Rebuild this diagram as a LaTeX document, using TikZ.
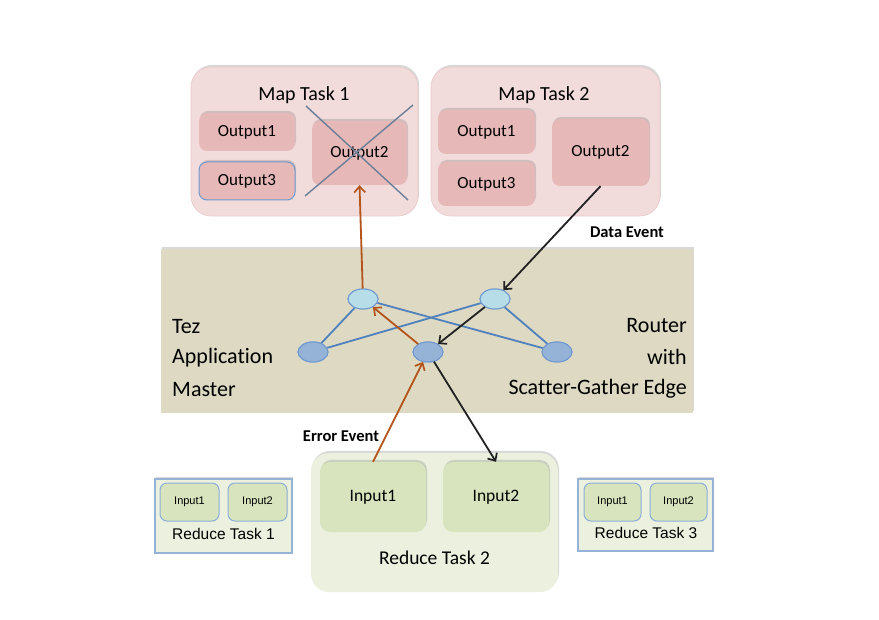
\documentclass[tikz,border=0pt]{standalone}
\usepackage{fontspec}
\setmainfont{Carlito}[Ligatures=NoCommon]
\newfontfamily\arialf{Liberation Sans}
\usetikzlibrary{shapes.geometric,arrows.meta,shadows}
\definecolor{mapfill}{HTML}{F2DCDB}
\definecolor{mapline}{HTML}{E8C8C7}
\definecolor{outfill}{HTML}{E6B9B8}
\definecolor{bandfill}{HTML}{DDD9C3}
\definecolor{lblue}{HTML}{B7DEE8}
\definecolor{dblue}{HTML}{95B3D7}
\definecolor{eblue}{HTML}{4F81BD}
\definecolor{oline}{HTML}{6F9AD0}
\definecolor{orng}{HTML}{B3541A}
\definecolor{darkar}{HTML}{222222}
\definecolor{redfill}{HTML}{EBF1DE}
\definecolor{infill}{HTML}{D7E4BD}
\definecolor{crossc}{HTML}{6B7F99}
\tikzset{
  shad/.style={drop shadow={shadow xshift=1pt,shadow yshift=2pt,opacity=0.25,fill=black!60}},
  mapbox/.style={shad,fill=mapfill,draw=mapline,line width=0.6pt,rounded corners=20pt,inner sep=0pt},
  outbox/.style={shad,fill=outfill,draw=none,rounded corners=8pt,inner sep=0pt,font=\fontsize{17}{19}\selectfont},
  band/.style={shad,fill=bandfill,draw=none,inner sep=0pt},
  lnode/.style={ellipse,fill=lblue,draw=oline,line width=1pt,minimum width=30pt,minimum height=20pt,inner sep=0pt},
  dnode/.style={ellipse,fill=dblue,draw=oline,line width=1pt,minimum width=30pt,minimum height=20pt,inner sep=0pt},
  edgeb/.style={draw=eblue,line width=1.8pt},
  arr/.style={line width=1.8pt,-{Straight Barb[length=6pt,width=11pt,line width=1.7pt]}},
  bigtxt/.style={font=\fontsize{22}{24}\selectfont,inner sep=0pt},
  redbox/.style={shad,fill=redfill,draw=none,rounded corners=18pt,inner sep=0pt},
  inbox/.style={shad,fill=infill,draw=none,rounded corners=10pt,inner sep=0pt,font=\fontsize{17.5}{20}\selectfont},
  smallred/.style={shad,fill=redfill,draw=dblue,line width=1.2pt,inner sep=0pt},
  smallin/.style={fill=infill,draw=oline!80,line width=1pt,rounded corners=7pt,inner sep=0pt,font=\arialf\fontsize{11}{13}\selectfont},
  evt/.style={font=\bfseries\fontsize{16.5}{18}\selectfont,inner sep=0pt}
}
\begin{document}
\begin{tikzpicture}[x=1pt,y=-1pt]
\useasboundingbox[fill=white] (0,0) rectangle (879,620);
% Map tasks
\node[mapbox,minimum width=227pt,minimum height=149pt] (map1) at (304.5,141.5) {};
\node[mapbox,minimum width=229pt,minimum height=149pt] (map2) at (545.5,141.5) {};
\node[font=\fontsize{20}{22}\selectfont,inner sep=0pt] (map1t) at (304,95) {Map Task 1};
\node[font=\fontsize{20}{22}\selectfont,inner sep=0pt] (map2t) at (544,95) {Map Task 2};
\node[outbox,minimum width=96pt,minimum height=38pt] (m1o1) at (247,132) {Output1};
\node[outbox,draw=oline,line width=1pt,minimum width=96pt,minimum height=38pt] (m1o3) at (247,181) {Output3};
\node[outbox,minimum width=95pt,minimum height=64pt] (m1o2) at (359.5,153) {Output2};
\node[outbox,minimum width=97pt,minimum height=44pt] (m2o1) at (486.5,132) {Output1};
\node[outbox,minimum width=97pt,minimum height=44pt] (m2o3) at (486.5,184) {Output3};
\node[outbox,minimum width=97pt,minimum height=67pt] (m2o2) at (600.5,152.5) {Output2};
% cross
\coordinate (xa1) at (306,106);
\coordinate (xa2) at (408,200);
\coordinate (xb1) at (413,105);
\coordinate (xb2) at (305,196);
\draw[crossc,line width=1.4pt] (xa1) -- (xa2);
\draw[crossc,line width=1.4pt] (xb1) -- (xb2);
% band
\node[band,minimum width=532pt,minimum height=164pt] (band) at (427,331) {};
\node[bigtxt,anchor=west] (tez1) at (172,327) {Tez};
\node[bigtxt,anchor=west] (tez2) at (172,358) {Application};
\node[bigtxt,anchor=west] (tez3) at (172,390) {Master};
\node[bigtxt,anchor=east] (rt1) at (687,326) {Router};
\node[bigtxt,anchor=east] (rt2) at (687,357) {with};
\node[bigtxt,anchor=east] (rt3) at (687,389) {Scatter-Gather Edge};
% graph nodes
\node[lnode] (ul) at (363,299) {};
\node[lnode] (ur) at (495,299) {};
\node[dnode] (ll) at (313,352) {};
\node[dnode] (c) at (428,352) {};
\node[dnode] (lr) at (557,352) {};
\draw[edgeb] (ul) -- (ll);
\draw[edgeb] (ul) -- (lr);
\draw[edgeb] (ur) -- (ll);
\draw[edgeb] (ur) -- (lr);
% redraw nodes on top of edges
\node[lnode] at (ul) {};
\node[lnode] at (ur) {};
\node[dnode] at (ll) {};
\node[dnode] at (c) {};
\node[dnode] at (lr) {};
% reduce tasks
\node[redbox,minimum width=247pt,minimum height=139pt] (red2) at (434.5,522.5) {};
\node[inbox,minimum width=106pt,minimum height=70pt] (rin1) at (373,497) {Input1};
\node[inbox,minimum width=106pt,minimum height=70pt] (rin2) at (496,497) {Input2};
\node[font=\fontsize{19.5}{22}\selectfont,inner sep=0pt] (red2t) at (434.5,558) {Reduce Task 2};
\node[smallred,minimum width=137pt,minimum height=74pt] (red1) at (223.5,516) {};
\node[smallin,minimum width=59pt,minimum height=38pt] (r1in1) at (189.5,502) {Input1};
\node[smallin,minimum width=59pt,minimum height=38pt] (r1in2) at (257.5,502) {Input2};
\node[font=\arialf\fontsize{15.5}{17}\selectfont,inner sep=0pt] (red1t) at (223.5,534) {Reduce Task 1};
\node[smallred,minimum width=135pt,minimum height=72pt] (red3) at (645.5,515) {};
\node[smallin,minimum width=57pt,minimum height=38pt] (r3in1) at (612.5,502) {Input1};
\node[smallin,minimum width=57pt,minimum height=38pt] (r3in2) at (678.5,502) {Input2};
\node[font=\arialf\fontsize{15.5}{17}\selectfont,inner sep=0pt] (red3t) at (646,533) {Reduce Task 3};
% arrows
\draw[arr,orng] (ul) -- (m1o2.south);
\draw[arr,darkar] (m2o2.south) -- (ur);
\draw[arr,darkar] (ur) -- (c);
\draw[arr,orng] (c) -- (ul);
\draw[arr,orng] (rin1.north) -- (c);
\draw[arr,darkar] (c) -- (rin2.north);
% event labels
\node[evt] (dev) at (627,232) {Data Event};
\node[evt] (eev) at (341,436) {Error Event};
\end{tikzpicture}
\end{document}
